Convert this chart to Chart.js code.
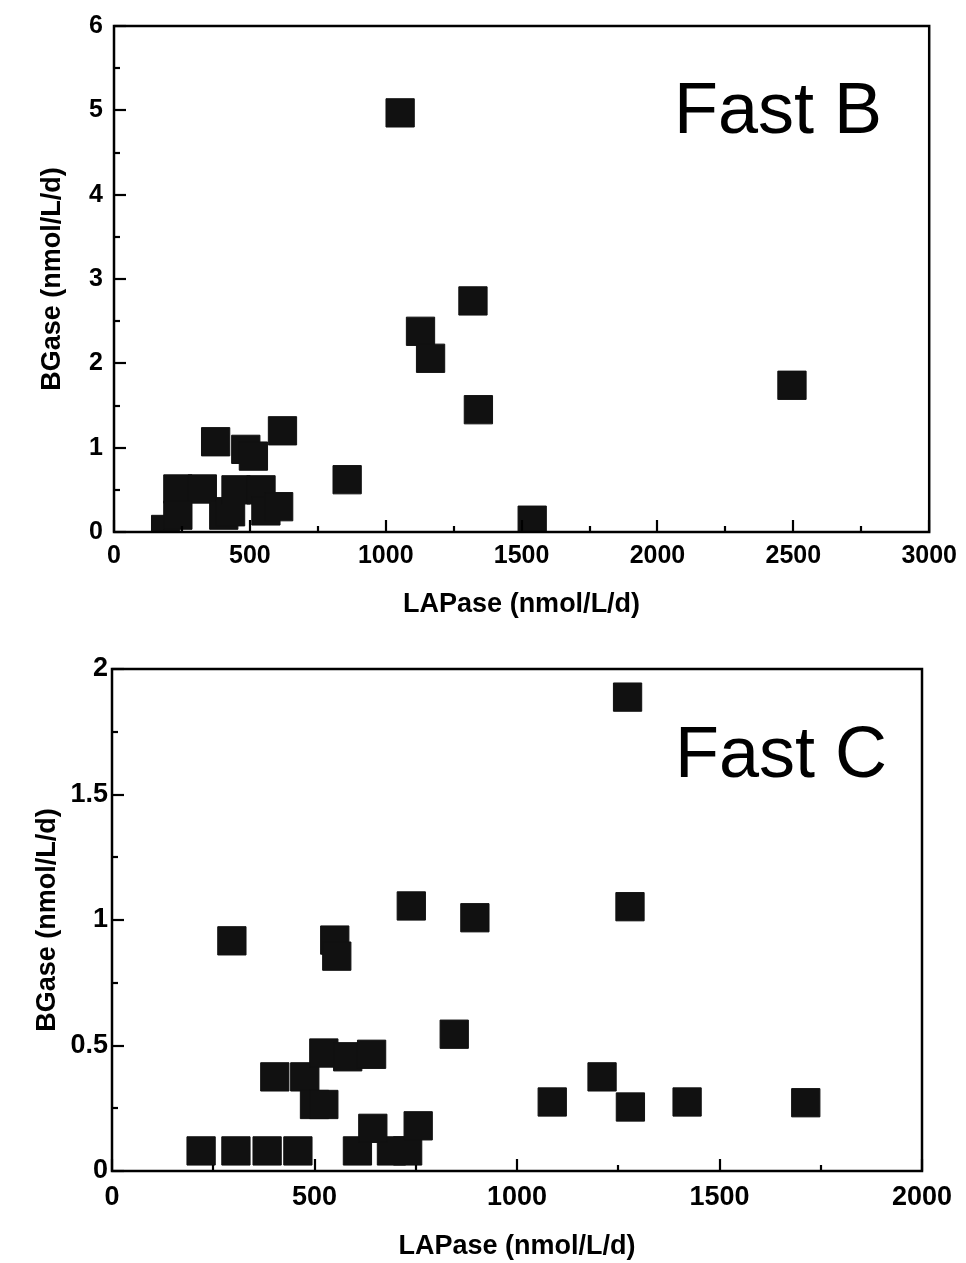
<!DOCTYPE html>
<html>
<head>
<meta charset="utf-8">
<script src="https://cdn.jsdelivr.net/npm/chart.js@4/dist/chart.umd.min.js"></script>
<style>
  html, body { margin:0; padding:0; background:#fff; }
  #wrap { position:relative; width:966px; height:1263px; }
  canvas { position:absolute; left:0; }
</style>
</head>
<body>
<div id="wrap">
  <canvas id="cB" width="966" height="640" style="top:0"></canvas>
  <canvas id="cC" width="966" height="623" style="top:640px"></canvas>
</div>
<script>
// ---------- Data: Fast B ----------
const fastB_LAPase = [190, 235, 325, 235, 404, 429, 449, 541, 559, 606, 374, 485, 513, 620, 858, 1053, 1128, 1165, 1321, 1341, 1539, 2495];
const fastB_BGase  = [0.03, 0.51, 0.51, 0.20, 0.20, 0.24, 0.50, 0.50, 0.25, 0.30, 1.07, 0.98, 0.90, 1.20, 0.62, 4.97, 2.38, 2.06, 2.74, 1.45, 0.14, 1.74];
const fastB_xTicks = [0, 500, 1000, 1500, 2000, 2500, 3000];
const fastB_yTicks = [0, 1, 2, 3, 4, 5, 6];

// ---------- Data: Fast C ----------
const fastC_LAPase = [220, 306, 383, 459, 606, 690, 730, 644, 756, 402, 476, 500, 523, 523, 582, 641, 845, 1087, 1210, 1280, 1420, 1713, 1273, 296, 550, 555, 739, 896, 1279];
const fastC_BGase  = [0.08, 0.08, 0.08, 0.08, 0.08, 0.08, 0.08, 0.17, 0.18, 0.375, 0.375, 0.265, 0.265, 0.47, 0.455, 0.465, 0.545, 0.275, 0.375, 0.255, 0.275, 0.272, 1.888, 0.917, 0.92, 0.856, 1.056, 1.009, 1.053];
const fastC_xTicks = [0, 500, 1000, 1500, 2000];
const fastC_yTicks = [0, 0.5, 1, 1.5, 2];
const fastC_yLabels = ['0', '0.5', '1', '1.5', '2'];

const FONT = '"Liberation Sans", Arial, Helvetica, sans-serif';

const framePlugin = {
  id: 'frame',
  afterDatasetsDraw(chart, args, o) {
    const { ctx, chartArea: a, scales: { x, y } } = chart;
    ctx.save();
    ctx.strokeStyle = '#000';
    ctx.lineCap = 'butt';
    ctx.lineWidth = 2.2;
    const xs = x.ticks.map(t => t.value);
    const ys = y.ticks.map(t => t.value);
    const drawX = (v, len) => {
      const p = Math.round(x.getPixelForValue(v));
      ctx.beginPath(); ctx.moveTo(p, a.bottom); ctx.lineTo(p, a.bottom - len); ctx.stroke();
    };
    const drawY = (v, len) => {
      const p = Math.round(y.getPixelForValue(v));
      ctx.beginPath(); ctx.moveTo(a.left, p); ctx.lineTo(a.left + len, p); ctx.stroke();
    };
    for (let i = 0; i < xs.length; i++) {
      drawX(xs[i], 12);
      if (i < xs.length - 1) drawX((xs[i] + xs[i + 1]) / 2, 6);
    }
    for (let i = 0; i < ys.length; i++) {
      drawY(ys[i], 12);
      if (i < ys.length - 1) drawY((ys[i] + ys[i + 1]) / 2, 6);
    }
    ctx.lineWidth = 2.5;
    ctx.strokeRect(a.left, a.top, a.right - a.left, a.bottom - a.top);
    ctx.fillStyle = '#000';
    ctx.font = '72px ' + FONT;
    ctx.textBaseline = 'alphabetic';
    ctx.textAlign = 'left';
    ctx.fillText(o.label, a.left + o.dx, a.top + o.dy);
    ctx.restore();
  }
};

function makeChart(id, xs, ys, xTicks, yTicks, yLabels, g) {
  const pts = xs.map((v, i) => ({ x: v, y: ys[i] }));
  return new Chart(document.getElementById(id), {
    type: 'scatter',
    data: {
      datasets: [{
        data: pts,
        pointStyle: 'rect',
        pointRadius: 20,
        pointHoverRadius: 20,
        backgroundColor: '#111',
        borderColor: '#111',
        borderWidth: 1
      }]
    },
    options: {
      responsive: false,
      animation: false,
      devicePixelRatio: 1,
      events: [],
      layout: { padding: { top: g.top, right: g.right, left: 0, bottom: 0 } },
      plugins: {
        legend: { display: false },
        tooltip: { enabled: false },
        frame: { label: g.label, dx: g.labelDx, dy: g.labelDy }
      },
      scales: {
        x: {
          type: 'linear',
          min: xTicks[0], max: xTicks[xTicks.length - 1],
          afterBuildTicks: s => { s.ticks = xTicks.map(v => ({ value: v })); },
          afterFit: s => { s.height = g.xAxisH; },
          grid: { display: false, drawTicks: false },
          border: { display: false },
          ticks: {
            color: '#000', padding: g.xTickPad, maxRotation: 0, autoSkip: false,
            font: { family: FONT, size: g.tickSize, weight: 'bold' },
            callback: v => String(v)
          },
          title: {
            display: true, text: 'LAPase (nmol/L/d)', color: '#000',
            font: { family: FONT, size: 27, weight: 'bold' },
            padding: { top: 0, bottom: g.xTitlePad }
          }
        },
        y: {
          type: 'linear',
          min: yTicks[0], max: yTicks[yTicks.length - 1],
          afterBuildTicks: s => { s.ticks = yTicks.map(v => ({ value: v })); },
          afterFit: s => { s.width = g.left; },
          grid: { display: false, drawTicks: false },
          border: { display: false },
          ticks: {
            color: '#000', padding: g.yTickPad, autoSkip: false,
            font: { family: FONT, size: g.tickSize, weight: 'bold' },
            callback: (v) => { const i = yTicks.indexOf(v); return yLabels ? yLabels[i] : String(v); }
          },
          title: {
            display: true, text: 'BGase (nmol/L/d)', color: '#000',
            font: { family: FONT, size: 27, weight: 'bold' },
            padding: { top: g.yTitlePad, bottom: 0 }
          }
        }
      }
    },
    plugins: [framePlugin]
  });
}

makeChart('cB', fastB_LAPase, fastB_BGase, fastB_xTicks, fastB_yTicks, null, {
  top: 23, right: 33, left: 114, xAxisH: 108, tickSize: 25,
  xTickPad: 9, xTitlePad: 19, yTickPad: 11, yTitlePad: 36,
  label: 'Fast B', labelDx: 560, labelDy: 107
});

makeChart('cC', fastC_LAPase, fastC_BGase, fastC_xTicks, fastC_yTicks, fastC_yLabels, {
  top: 29, right: 44, left: 112, xAxisH: 92, tickSize: 27,
  xTickPad: 10, xTitlePad: 0, yTickPad: 4, yTitlePad: 31,
  label: 'Fast C', labelDx: 563, labelDy: 108
});
</script>
</body>
</html>
